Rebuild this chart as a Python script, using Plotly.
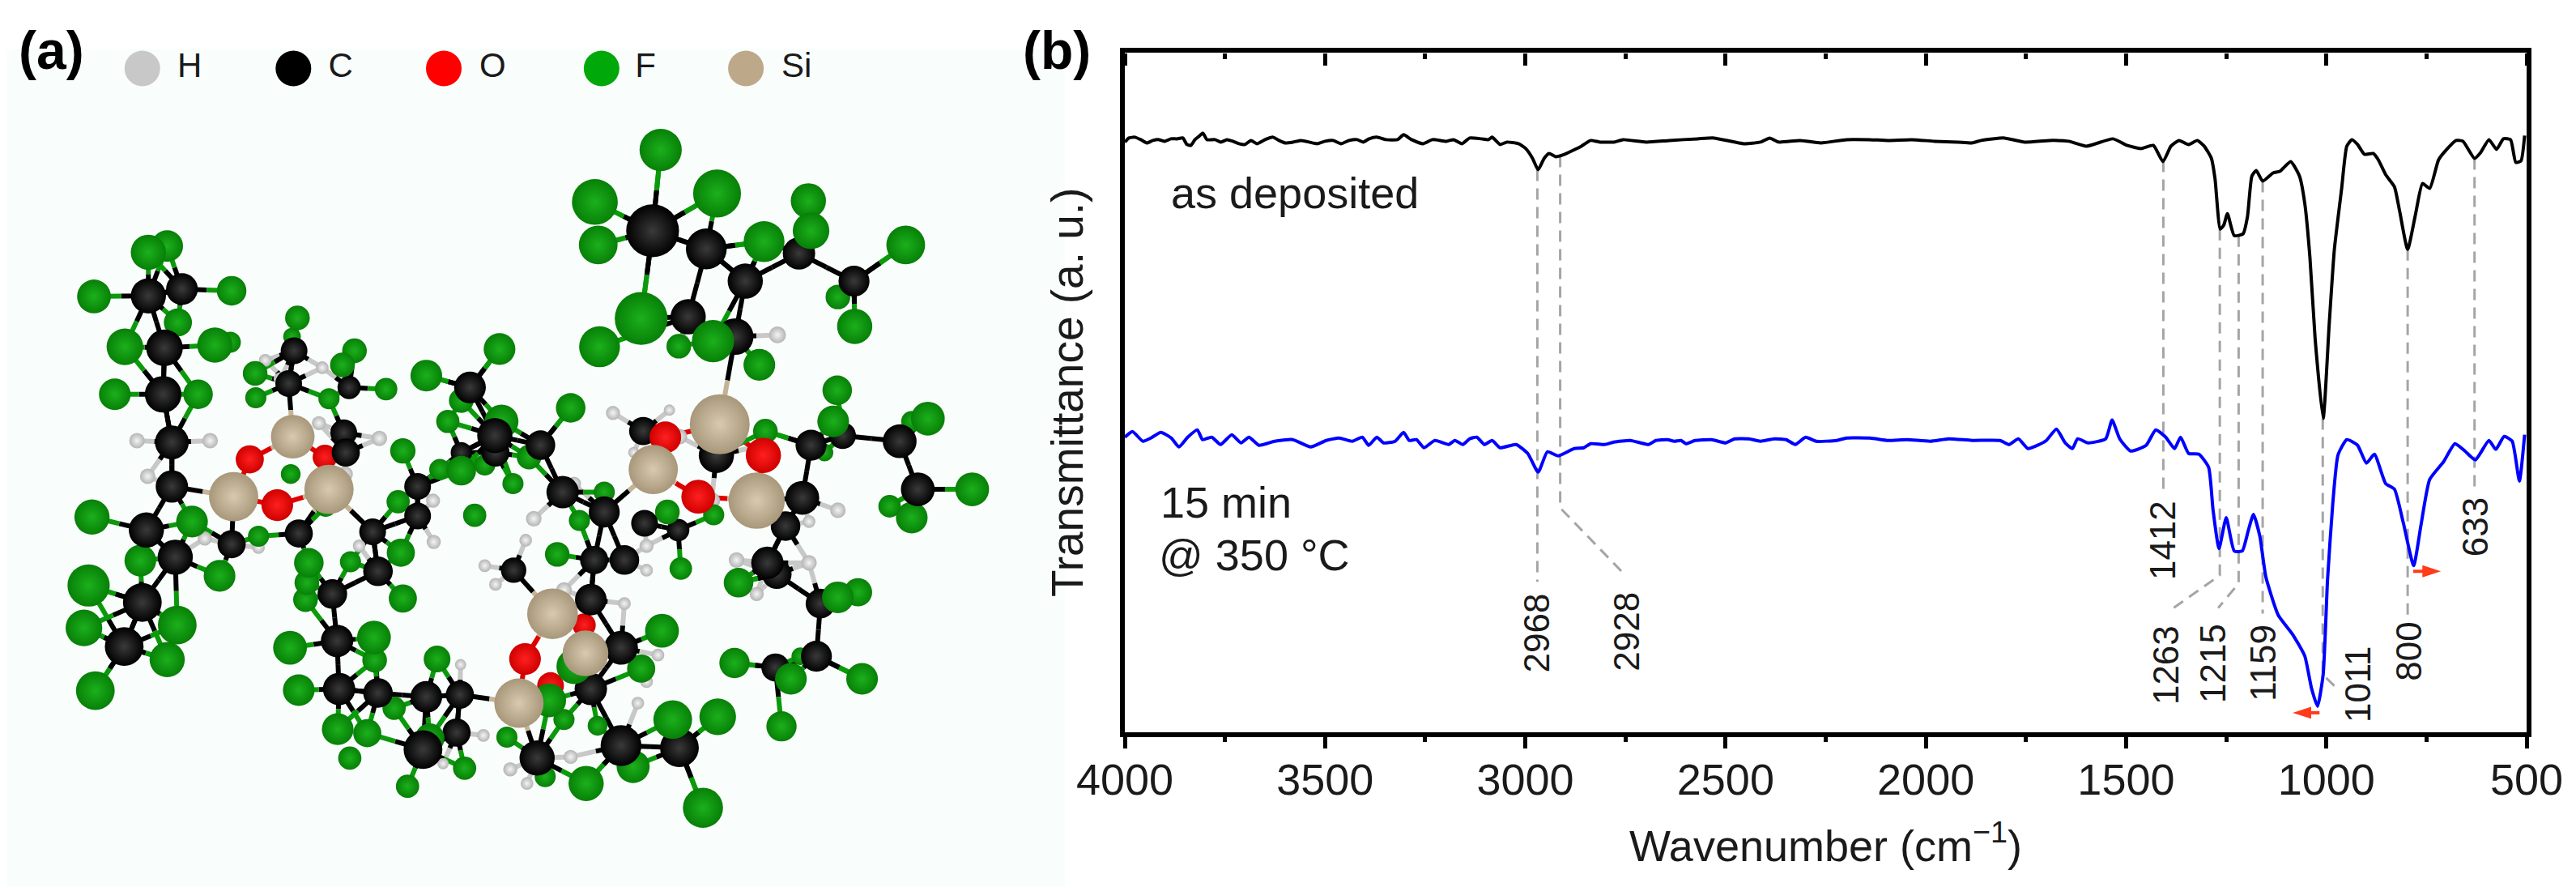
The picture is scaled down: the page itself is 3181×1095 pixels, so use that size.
# FTIR spectra of the film (b) next to a ball and stick model of the molecule (a)
import plotly.graph_objs as go

WIDTH, HEIGHT = 3181, 1095
PAGE_MARGIN = 8  # the browser puts this much white round the figure

# ---- spectra (transmittance in arbitrary units)
WN_DEPOSITED = [4000, 3990, 3975, 3960, 3945, 3930, 3915, 3900, 3885, 3870, 3855, 3845, 3835, 3825, 3815, 3805, 3795, 3775, 3760, 3745, 3730, 3715, 3700, 3685, 3670, 3650, 3630, 3615, 3600, 3580, 3560, 3540, 3520, 3500, 3480, 3460, 3440, 3420, 3405, 3390, 3371, 3348, 3319, 3304, 3284, 3255, 3232, 3197, 3179, 3158, 3139, 3110, 3092, 3083, 3063, 3046, 3017, 2999, 2982, 2968, 2953, 2941, 2924, 2907, 2860, 2837, 2814, 2779, 2756, 2698, 2640, 2570, 2529, 2454, 2413, 2390, 2367, 2314, 2262, 2198, 2140, 2094, 2036, 1978, 1920, 1885, 1862, 1804, 1753, 1691, 1643, 1599, 1533, 1498, 1463, 1432, 1408, 1388, 1368, 1344, 1322, 1305, 1287, 1278, 1265, 1256, 1247, 1230, 1208, 1197, 1186, 1175, 1159, 1133, 1116, 1089, 1067, 1054, 1041, 1028, 1008, 993, 980, 962, 949, 936, 922, 905, 883, 870, 852, 830, 817, 797, 777, 760, 742, 720, 703, 676, 659, 630, 615, 594, 575, 558, 540, 527, 514, 505]
T_DEPOSITED = [728, 733, 734, 731, 727, 730, 731, 729, 732, 732, 733, 725, 724, 731, 735, 739, 731, 731, 728, 731, 729, 726, 725, 730, 726, 731, 734, 730, 727, 728, 730, 728, 726, 729, 730, 726, 730, 731, 728, 732, 734, 731, 731, 737, 731, 726, 731, 729, 731, 726, 733, 732, 731, 734, 725, 728, 726, 720, 708, 694, 708, 714, 710, 712, 723, 730, 728, 728, 731, 728, 730, 732, 733, 726, 728, 733, 728, 730, 727, 731, 731, 730, 731, 729, 728, 727, 730, 733, 728, 730, 729, 723, 732, 724, 720, 724, 704, 723, 730, 725, 730, 723, 708, 683, 621, 626, 640, 613, 615, 636, 686, 693, 680, 690, 692, 704, 686, 653, 586, 486, 388, 503, 596, 670, 723, 731, 725, 713, 714, 706, 688, 673, 643, 596, 640, 677, 671, 706, 717, 730, 729, 708, 715, 731, 719, 732, 731, 703, 705, 736]

WN_ANNEALED = [4000, 3981, 3955, 3935, 3910, 3884, 3865, 3843, 3819, 3806, 3783, 3761, 3733, 3710, 3690, 3665, 3626, 3581, 3536, 3497, 3465, 3432, 3407, 3391, 3371, 3354, 3325, 3304, 3290, 3272, 3253, 3226, 3191, 3176, 3156, 3139, 3121, 3102, 3083, 3063, 3023, 2994, 2968, 2945, 2918, 2878, 2854, 2837, 2802, 2779, 2738, 2692, 2674, 2645, 2628, 2611, 2599, 2576, 2535, 2500, 2477, 2442, 2413, 2378, 2349, 2326, 2300, 2274, 2222, 2198, 2140, 2094, 2047, 1989, 1943, 1885, 1815, 1792, 1769, 1745, 1717, 1699, 1674, 1652, 1634, 1621, 1595, 1551, 1535, 1516, 1489, 1450, 1426, 1401, 1379, 1364, 1344, 1318, 1294, 1283, 1268, 1250, 1230, 1210, 1195, 1182, 1166, 1151, 1120, 1085, 1054, 1037, 1022, 1008, 997, 984, 971, 949, 922, 900, 880, 852, 830, 808, 782, 764, 742, 707, 679, 654, 628, 594, 577, 556, 536, 518, 505]
T_ANNEALED = [365, 372, 360, 364, 371, 364, 353, 365, 374, 362, 365, 356, 368, 358, 365, 355, 360, 362, 353, 361, 364, 360, 365, 355, 365, 358, 360, 371, 361, 362, 352, 361, 356, 361, 356, 363, 365, 356, 361, 352, 356, 345, 322, 347, 342, 351, 352, 357, 356, 359, 361, 356, 361, 362, 360, 361, 357, 361, 362, 358, 363, 363, 360, 363, 362, 356, 365, 360, 361, 364, 364, 361, 362, 360, 363, 361, 361, 356, 363, 351, 356, 361, 375, 358, 351, 363, 358, 363, 386, 363, 348, 355, 374, 365, 351, 365, 345, 344, 328, 276, 228, 266, 225, 225, 250, 270, 243, 193, 146, 123, 96, 56, 34, 73, 190, 283, 343, 362, 355, 333, 344, 308, 301, 260, 207, 256, 313, 335, 357, 348, 337, 361, 350, 366, 360, 311, 368]

# peak guides: wavenumber and transmittance of every dashed line
GUIDE_WN = [[2970, 2970], [2913, 2913, 2748], [1407, 1407], [1266, 1266, 1393], [1219, 1219, 1270], [1159, 1159], [1009, 1009, 967], [797, 797], [630, 630]]
GUIDE_T = [[694, 187], [711, 278, 194], [705, 298], [621, 195, 151], [613, 185, 155], [680, 148], [388, 73, 53], [596, 146], [708, 300]]

PEAK_TEXT = ['2968', '2928', '1412', '1263', '1215', '1159', '1011', '800', '633']
PEAK_WN = [2971, 2748, 1410, 1401, 1284, 1157, 920, 793, 629]
PEAK_T = [124, 126, 238, 85, 87, 87, 61, 101, 254]

# red shift arrows, start and end wavenumber
SHIFT_WN = [[783, 714], [1017, 1084]]
SHIFT_T = [200, 26]

X_TICKS = [4000, 3500, 3000, 2500, 2000, 1500, 1000, 500]
X_MINOR = [3750, 3250, 2750, 2250, 1750, 1250, 750]

# ---- molecule: x, y and width of every atom as seen in the picture
F_ATOMS = [(984,265,60),(886,357,65),(1068,342,68),(891,433,55),(1138,427,58),(1204,355,50),(1208,408,52),(1349,433,55),(1248,525,35),(1273,577,50),(955,563,75),(893,613,58),(1062,603,60),(1011,612,35),(1131,645,45),
           (249,435,45),(221,446,50),(140,524,48),(345,514,42),(265,570,40),(186,613,52),(320,610,50),(343,605,30),(443,562,35),(435,595,25),(528,620,35),(510,645,35),(380,660,35),(381,703,30),(575,688,32),(490,705,30),(171,697,45),(295,697,42),
           (744,617,45),(635,664,45),(687,708,35),(747,745,48),(850,721,42),(667,745,33),(600,797,36),(788,808,35),(655,830,30),(687,832,42),(722,822,30),(764,855,30),(707,911,33),(593,887,33),(433,838,28),(485,895,30),
           (137,914,50),(286,922,45),(385,948,30),(209,991,45),(327,1018,45),(132,1035,60),(125,1110,52),(264,1105,55),(249,1166,50),(142,1221,55),
           (460,995,42),(522,993,30),(597,977,40),(600,1058,40),(455,1060,35),(457,1030,35),(432,1145,48),(557,1127,48),(558,1167,35),(651,1165,38),(445,1220,45),(503,1289,45),(547,1296,40),(587,1252,33),(521,1340,33),(640,1305,42),(692,1358,33),(607,1390,33),
           (830,980,35),(863,920,30),(900,870,30),(994,905,35),(1063,910,30),(1014,1005,32),(986,1115,48),(955,1182,40),(855,1178,50),(818,1238,48),(840,1272,30),(890,1283,28),(755,1303,30),(812,1373,30),(873,1385,50),(943,1355,47),(1002,1272,55),(1069,1267,52),(1047,1428,57),
           (1140,762,35),(1247,690,42),(1241,745,45),(1382,740,48),(1358,745,30),(1228,800,25),(1448,865,48),(1325,895,32),(1358,915,45),(1100,1030,42),(1248,1056,45),(1278,1047,40),(1094,1172,43),(1178,1200,45),(1192,1160,25),(1284,1200,45),(1164,1284,43)]
C_ATOMS = [(221,523,50),(271,511,45),(245,615,52),(243,697,52),(256,782,48),(256,860,46),(218,937,50),(261,985,50),(212,1065,55),(185,1143,55),
           (345,962,40),(445,943,40),(555,940,38),(563,1010,42),(495,1050,42),(502,1133,46),(505,1218,46),(563,1225,42),(635,1232,45),(685,1228,40),(680,1295,40),(630,1325,55),
           (438,620,38),(430,678,38),(520,685,33),(512,765,38),(515,800,40),(622,860,38),(622,912,38),(687,800,30),(700,685,45),(737,770,50),(738,800,40),(805,787,42),(838,870,46),(900,905,44),(960,925,38),(1010,937,32),(885,990,40),(930,990,42),(880,1060,45),(925,1145,48),(880,1218,46),(925,1318,58),(1012,1322,55),(800,1340,50),(765,1008,36),
           (972,408,75),(1052,440,58),(1110,497,50),(1025,560,50),(1095,595,52),(1190,448,46),(1272,497,44),(958,762,40),(1067,805,50),(1195,880,48),(1170,930,42),(1208,787,44),(1255,770,38),(1340,780,48),(1367,865,48),(1143,995,46),(1157,1015,42),(1222,1067,42),(1216,1160,44),(1155,1180,40)]
O_ATOMS = [(372,812,40),(413,893,45),(484,808,35),(782,1165,45),(870,1105,33),(820,1212,38),(991,773,45),(1137,805,50),(1040,878,48)]
SI_ATOMS = [(436,772,62),(348,878,70),(490,865,70),(823,1085,72),(872,1155,65),(773,1243,70),(1072,750,85),(973,830,70),(1127,885,80)]
H_ATOMS = [(204,779,22),(313,779,22),(220,842,22),(305,952,20),(385,968,18),(395,637,18),(418,670,20),(480,650,18),(475,748,20),(565,775,22),(514,838,22),(535,965,18),(645,885,20),(646,958,20),(795,917,22),(855,855,20),(913,730,20),(997,725,16),(944,800,16),(1012,772,22),(1014,605,25),(1158,592,24),(1133,788,24),(1060,885,24),(1248,902,22),(1205,922,18),(1097,990,22),(1205,995,22),(1127,1050,20),(963,965,20),(963,1008,18),(783,955,18),(722,1000,18),(738,1033,18),(840,1043,22),(930,1067,18),(980,1158,18),(963,1205,18),(950,1243,18),(686,1175,16),(720,1300,18),(660,1350,16),(850,1338,20),(760,1360,20),(785,1385,18)]

# backbone and long bonds, the short ones are found from the distances below
LONG_BONDS = [((972,408),(984,265)),((972,408),(886,357)),((972,408),(891,433)),((972,408),(1068,342)),((972,408),(1052,440)),((972,408),(955,563)),
              ((1052,440),(1025,560)),((1052,440),(1110,497)),((1052,440),(1138,427)),((1025,560),(893,613)),((1025,560),(1062,603)),((1110,497),(1095,595)),((1110,497),(1138,427)),((1110,497),(1190,448)),
              ((1095,595),(1072,750)),((1095,595),(1131,645)),((1095,595),(1011,612)),((1190,448),(1272,497)),((1190,448),(1208,408)),((1190,448),(1204,355)),((1272,497),(1349,433)),((1272,497),(1273,577)),((1272,497),(1248,525)),
              ((1208,787),(1255,770)),((1255,770),(1340,780)),((1340,780),(1367,865)),((1367,865),(1448,865)),((1340,780),(1382,740)),((1340,780),(1358,745)),((1367,865),(1325,895)),((1367,865),(1358,915)),((1255,770),(1241,745)),((1255,770),(1247,690)),
              ((1208,787),(1140,762)),((1208,787),(1228,800)),((1208,787),(1195,880)),((1195,880),(1127,885)),((1195,880),(1170,930)),((1170,930),(1143,995)),((1157,1015),(1222,1067)),((1157,1015),(1100,1030)),((1222,1067),(1248,1056)),((1222,1067),(1278,1047)),((1222,1067),(1216,1160)),
              ((1216,1160),(1284,1200)),((1216,1160),(1192,1160)),((1216,1160),(1155,1180)),((1155,1180),(1094,1172)),((1155,1180),(1178,1200)),((1155,1180),(1164,1284)),
              ((925,1318),(880,1218)),((925,1318),(873,1385)),((925,1318),(943,1355)),((925,1318),(1012,1322)),((1012,1322),(1002,1272)),((1012,1322),(1069,1267)),((1012,1322),(1047,1428)),((880,1218),(925,1145)),((925,1145),(880,1060)),((880,1060),(823,1085)),((880,1060),(885,990)),
              ((900,905),(885,990)),((900,905),(930,990)),((838,870),(900,905)),((838,870),(805,787)),((805,787),(737,770)),((805,787),(850,721)),((805,787),(788,808)),((737,770),(700,685)),((700,685),(744,617)),((700,685),(635,664)),((700,685),(687,708)),((737,770),(687,800)),((622,860),(687,800)),
              ((622,860),(622,912)),((622,912),(555,940)),((555,940),(490,865)),((555,940),(563,1010)),((563,1010),(495,1050)),((495,1050),(502,1133)),((502,1133),(505,1218)),((505,1218),(563,1225)),((563,1225),(635,1232)),((635,1232),(685,1228)),((685,1228),(773,1243)),((635,1232),(630,1325)),((685,1228),(680,1295)),((680,1295),(630,1325)),
              ((218,937),(256,860)),((256,860),(348,878)),((256,860),(256,782)),((256,782),(243,697)),((243,697),(245,615)),((245,615),(221,523)),((221,523),(271,511)),((218,937),(261,985)),((261,985),(212,1065)),((212,1065),(185,1143)),((185,1143),(142,1221)),((212,1065),(132,1035)),((212,1065),(264,1105)),((185,1143),(249,1166)),((185,1143),(125,1110)),
              ((773,1243),(800,1340)),((773,1243),(820,1212)),((773,1243),(782,1165)),((782,1165),(823,1085)),((823,1085),(765,1008)),((823,1085),(870,1105)),((870,1105),(872,1155)),((1072,750),(991,773)),((1072,750),(1137,805)),((991,773),(973,830)),((973,830),(1040,878)),((1040,878),(1127,885)),((1137,805),(1127,885)),((973,830),(900,905)),
              ((436,772),(430,678)),((430,678),(438,620)),((436,772),(372,812)),((372,812),(348,878)),((436,772),(484,808)),((484,808),(490,865)),((348,878),(413,893)),((413,893),(490,865)),((348,878),(345,962)),((490,865),(445,943))]

ELEMENTS = ['H', 'C', 'O', 'F', 'Si']
LEGEND_X = [212, 437, 661, 896, 1111]
LEGEND_TEXT_X = [264, 489, 714, 946, 1164]
LEGEND_COLORS = ['#c8c8c8', '#000000', '#ff0000', '#00a80a', '#bda98a']

ATOMS = {'H': H_ATOMS, 'C': C_ATOMS, 'O': O_ATOMS, 'F': F_ATOMS, 'Si': SI_ATOMS}
EDGE = {'H': '#b4b4b4', 'C': '#000000', 'O': '#d00000', 'F': '#078007', 'Si': '#a8977a'}
CENTER = {'H': '#f4f4f4', 'C': '#3a3a3a', 'O': '#ff2020', 'F': '#1cb01c', 'Si': '#d8cab0'}
BOND = {'H': '#c8c8c8', 'C': '#000000', 'O': '#e00000', 'F': '#0a9a0a', 'Si': '#c4b394'}
# a bond is drawn when two atoms are closer than this share of their summed widths
BOND_MAX = {('C', 'C'): 0.62, ('C', 'F'): 0.8, ('C', 'H'): 0.85}

fig = go.Figure()

# ---- panel (a)
def scale_x(v):
    return v / 1.206

def scale_y(v):
    return v / 1.432

flat = [(el, a) for el in ELEMENTS for a in ATOMS[el]]
element_at = {(a[0], a[1]): el for el, a in flat}
half_bonds = {el: ([], []) for el in ELEMENTS}

def add_bond(p, q):
    mx, my = (p[0] + q[0]) / 2, (p[1] + q[1]) / 2
    for atom in (p, q):
        xs, ys = half_bonds[element_at[(atom[0], atom[1])]]
        xs.extend([atom[0], mx, None])
        ys.extend([atom[1], my, None])

for i, (el1, a) in enumerate(flat):
    for el2, b in flat[i + 1:]:
        share = BOND_MAX.get(tuple(sorted((el1, el2))))
        if share is None:
            continue
        dist = ((scale_x(a[0] - b[0])) ** 2 + (scale_y(a[1] - b[1])) ** 2) ** 0.5
        if dist <= share * (a[2] + b[2]):
            add_bond(a, b)

for p, q in LONG_BONDS:
    add_bond(p, q)

for el in ELEMENTS:
    fig.add_trace(go.Scatter(x=half_bonds[el][0], y=half_bonds[el][1], mode='lines',
                             line=dict(color=BOND[el], width=6),
                             xaxis='x', yaxis='y', showlegend=False, hoverinfo='skip'))

# big atoms are the near ones, so they go on top
drawn = sorted(flat, key=lambda item: item[1][2])
fig.add_trace(go.Scatter(x=[a[0] for el, a in drawn], y=[a[1] for el, a in drawn], mode='markers',
                         marker=dict(size=[a[2] / 1.15 for el, a in drawn], opacity=1,
                                     color=[EDGE[el] for el, a in drawn],
                                     gradient=dict(type='radial', color=[CENTER[el] for el, a in drawn]),
                                     line=dict(width=0)),
                         xaxis='x', yaxis='y', showlegend=False, hoverinfo='skip'))

# element key
fig.add_trace(go.Scatter(x=LEGEND_X, y=[121] * 5, mode='markers',
                         marker=dict(size=44, color=LEGEND_COLORS, line=dict(width=0)),
                         xaxis='x', yaxis='y', showlegend=False, hoverinfo='skip'))
fig.add_trace(go.Scatter(x=LEGEND_TEXT_X, y=[121] * 5, mode='text', text=ELEMENTS,
                         textposition='middle right',
                         textfont=dict(family='Liberation Sans', size=42, color='#1a1a1a'),
                         xaxis='x', yaxis='y', showlegend=False, hoverinfo='skip'))

# ---- panel (b)
for gx, gy in zip(GUIDE_WN, GUIDE_T):
    fig.add_trace(go.Scatter(x=gx, y=gy, mode='lines',
                             line=dict(color='#a5a5a5', width=3, dash='14px,9px'),
                             xaxis='x2', yaxis='y2', showlegend=False, hoverinfo='skip'))

fig.add_trace(go.Scatter(x=WN_DEPOSITED, y=T_DEPOSITED, mode='lines', name='as deposited',
                         line=dict(color='#000000', width=4, shape='spline', smoothing=0.5),
                         xaxis='x2', yaxis='y2', showlegend=False))
fig.add_trace(go.Scatter(x=WN_ANNEALED, y=T_ANNEALED, mode='lines', name='15 min @ 350 °C',
                         line=dict(color='#0000ff', width=4, shape='spline', smoothing=0.5),
                         xaxis='x2', yaxis='y2', showlegend=False))

for wn, t in zip(SHIFT_WN, SHIFT_T):
    fig.add_trace(go.Scatter(x=wn, y=[t, t], mode='lines+markers',
                             line=dict(color='#ff3b1a', width=4),
                             marker=dict(symbol='arrow', angleref='previous', size=[0, 24], opacity=1,
                                         color='#ff3b1a', line=dict(width=0)),
                             xaxis='x2', yaxis='y2', showlegend=False, hoverinfo='skip'))

# a flat helper subplot under the top spine, its bottom ticks are the inward top ticks
fig.add_trace(go.Scatter(x=[4000], y=[0], mode='markers', marker=dict(opacity=0),
                         xaxis='x3', yaxis='y3', showlegend=False, hoverinfo='skip'))

annotations = []
for text, wn, t in zip(PEAK_TEXT, PEAK_WN, PEAK_T):
    annotations.append(dict(x=wn, y=t, xref='x2', yref='y2', text=text, textangle=-90, showarrow=False,
                            font=dict(family='Liberation Sans', size=44, color='#1a1a1a')))

for text, wn, t in [('as deposited', 3889, 666), ('15 min', 3915, 285), ('@ 350 °C', 3919, 220)]:
    annotations.append(dict(x=wn, y=t, xref='x2', yref='y2', text=text, xanchor='left', showarrow=False,
                            font=dict(family='Liberation Sans', size=54, color='#1a1a1a')))

for text, px in [('(a)', 63), ('(b)', 1305)]:
    annotations.append(dict(x=(px - PAGE_MARGIN) / WIDTH, y=1 - (62 - PAGE_MARGIN) / HEIGHT,
                            xref='paper', yref='paper', xanchor='center', yanchor='middle',
                            text=text, showarrow=False,
                            font=dict(family='Liberation Sans', size=66, color='#000000', weight='bold')))

x_b = dict(range=[4000, 500], domain=[(1389 - PAGE_MARGIN) / WIDTH, (3120 - PAGE_MARGIN) / WIDTH])
top_b = 1 - (64.5 - PAGE_MARGIN) / HEIGHT

# the first panel axes run in picture units
X0_A = PAGE_MARGIN * 1.206
Y0_A = PAGE_MARGIN * 1.432

layout = go.Layout(
    width=WIDTH, height=HEIGHT, autosize=False,
    margin=dict(l=0, r=0, t=0, b=0, autoexpand=False),
    paper_bgcolor='white', plot_bgcolor='rgba(0,0,0,0)',
    annotations=annotations,
    shapes=[dict(type='rect', xref='paper', yref='paper', x0=0, x1=(1315 - PAGE_MARGIN) / WIDTH, y0=0,
                 y1=1 - (60 - PAGE_MARGIN) / HEIGHT,
                 fillcolor='#f9fdfb', line=dict(width=0), layer='below')],
    xaxis=dict(range=[X0_A, 1568 + X0_A], domain=[0, 1300 / WIDTH], visible=False),
    yaxis=dict(range=[1568 + Y0_A, Y0_A], domain=[0, 1], visible=False),
    xaxis2=dict(**x_b, anchor='y2', showline=True, linewidth=6, linecolor='black', mirror=True,
                showgrid=False, zeroline=False,
                tickmode='array', tickvals=X_TICKS,
                ticks='outside', ticklen=14, tickwidth=5, tickcolor='black', ticklabelstandoff=-8,
                minor=dict(tickmode='array', tickvals=X_MINOR,
                           ticks='outside', ticklen=6, tickwidth=5, tickcolor='black'),
                tickfont=dict(family='Liberation Sans', size=54, color='#1a1a1a'),
                title=dict(text='Wavenumber (cm<sup>−1</sup>)', standoff=36,
                           font=dict(family='Liberation Sans', size=54, color='#1a1a1a'))),
    xaxis3=dict(**x_b, anchor='y3', showline=False, showgrid=False, zeroline=False,
                showticklabels=False, tickmode='array', tickvals=X_TICKS,
                ticks='outside', ticklen=15, tickwidth=5, tickcolor='black',
                minor=dict(tickmode='array', tickvals=X_MINOR,
                           ticks='outside', ticklen=7, tickwidth=5, tickcolor='black')),
    yaxis2=dict(range=[2, 838.5], domain=[(191 + PAGE_MARGIN) / HEIGHT, top_b], anchor='x2',
                showline=True, linewidth=6, linecolor='black', mirror=True, showgrid=False, zeroline=False,
                ticks='', showticklabels=False,
                title=dict(text='Transmittance (a. u.)', standoff=30,
                           font=dict(family='Liberation Sans', size=55, color='#1a1a1a'))),
    yaxis3=dict(range=[-1, 1], domain=[top_b, top_b + 0.002], anchor='x3', visible=False),
)

fig.update_layout(layout)
fig.write_html("out.html")
